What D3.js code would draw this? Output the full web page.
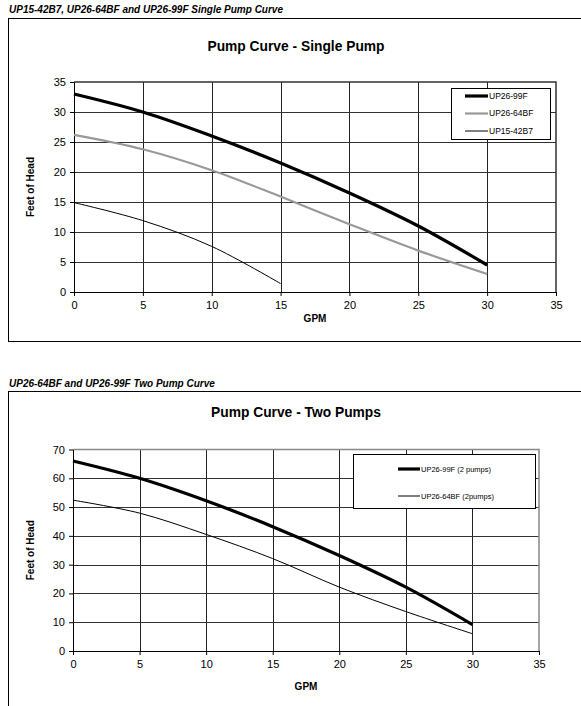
<!DOCTYPE html>
<html>
<head>
<meta charset="utf-8">
<script src="https://cdn.jsdelivr.net/npm/d3@7"></script>
<style>
  body { margin: 0; background: #fff; }
  svg text { font-family: "Liberation Sans", Arial, sans-serif; }
</style>
</head>
<body>
<div class="container"></div>
<script>
// data
var gpm = [0, 5, 10, 15, 20, 25, 30];
var gpmSmall = [0, 5, 10, 15];
var up2699 = [33, 30, 26, 21.5, 16.5, 11, 4.5];
var up2664 = [26.2, 23.8, 20.3, 15.9, 11.3, 6.9, 3];
var up1542 = [14.9, 11.9, 7.6, 1.4];
var up2699Two = [66, 60, 52.2, 43.2, 33.2, 22.2, 9.2];
var up2664Two = [52.4, 47.9, 40.5, 32.1, 22.2, 13.7, 6];
var xTicks = [0, 5, 10, 15, 20, 25, 30, 35];
var yTicksSingle = [0, 5, 10, 15, 20, 25, 30, 35];
var yTicksTwo = [0, 10, 20, 30, 40, 50, 60, 70];

var W = 581, H = 706;

var svg = d3.select('.container').append('svg')
	.attr('width', W)
	.attr('height', H);

var zip = function (xs, ys) {
	return xs.map(function (x, i) { return [x, ys[i]]; });
};

var drawChart = function (opt) {
	var g = svg.append('g');

	// section heading + frame
	g.append('text')
		.attr('x', 9).attr('y', opt.headY)
		.attr('font-size', 10).attr('font-weight', 'bold').attr('font-style', 'italic')
		.text(opt.heading);
	g.append('rect')
		.attr('x', 8.5).attr('y', opt.boxTop + 0.5)
		.attr('width', 600).attr('height', opt.boxH)
		.attr('fill', 'none').attr('stroke', '#000').attr('stroke-width', 1);

	var x = d3.scaleLinear().domain([0, 35]).range(opt.xr);
	var y = d3.scaleLinear().domain([0, opt.yMax]).range(opt.yr);

	g.append('text')
		.attr('x', 296).attr('y', opt.titleY)
		.attr('text-anchor', 'middle')
		.attr('font-size', 13.8).attr('font-weight', 'bold')
		.text(opt.title);

	// gridlines
	g.append('g').selectAll('line').data(xTicks.slice(1, -1)).enter().append('line')
		.attr('x1', function (d) { return Math.round(x(d)) + 0.5; })
		.attr('x2', function (d) { return Math.round(x(d)) + 0.5; })
		.attr('y1', opt.yr[1]).attr('y2', opt.yr[0])
		.attr('stroke', '#222').attr('stroke-width', 1);
	g.append('g').selectAll('line').data(opt.yTicks.slice(1, -1)).enter().append('line')
		.attr('y1', function (d) { return Math.round(y(d)) + 0.5; })
		.attr('y2', function (d) { return Math.round(y(d)) + 0.5; })
		.attr('x1', opt.xr[0]).attr('x2', opt.xr[1])
		.attr('stroke', '#333').attr('stroke-width', 1);

	// plot border (top/right)
	g.append('path')
		.attr('d', 'M' + opt.xr[0] + ',' + opt.yr[1] + 'H' + opt.xr[1] + 'V' + opt.yr[0])
		.attr('fill', 'none').attr('stroke', opt.borderColor).attr('stroke-width', 1.5);

	// axes
	var xAxis = g.append('g')
		.attr('transform', 'translate(0,' + opt.yr[0] + ')')
		.call(d3.axisBottom(x).tickValues(xTicks).tickSize(4).tickSizeOuter(0).tickPadding(5));
	var yAxis = g.append('g')
		.attr('transform', 'translate(' + opt.xr[0] + ',0)')
		.call(d3.axisLeft(y).tickValues(opt.yTicks).tickSize(4).tickSizeOuter(0).tickPadding(4));
	[xAxis, yAxis].forEach(function (a) {
		a.selectAll('text').attr('font-size', 11).attr('fill', '#000')
			.style('font-family', '"Liberation Sans", Arial, sans-serif');
		a.select('.domain').attr('stroke', '#000');
		a.selectAll('.tick line').attr('stroke', '#000');
	});

	g.append('text')
		.attr('x', (opt.xr[0] + opt.xr[1]) / 2).attr('y', opt.gpmY)
		.attr('text-anchor', 'middle')
		.attr('font-size', 10).attr('font-weight', 'bold')
		.text('GPM');
	g.append('text')
		.attr('transform', 'translate(34,' + (opt.yr[0] + opt.yr[1]) / 2 + ') rotate(-90)')
		.attr('text-anchor', 'middle')
		.attr('font-size', 10).attr('font-weight', 'bold')
		.text('Feet of Head');

	var line = d3.line()
		.x(function (d) { return x(d[0]); })
		.y(function (d) { return y(d[1]); })
		.curve(d3.curveCatmullRom.alpha(0.5));

	g.append('g').selectAll('path').data(opt.series).enter().append('path')
		.attr('d', function (s) { return line(s.pts); })
		.attr('fill', 'none')
		.attr('stroke', function (s) { return s.color; })
		.attr('stroke-width', function (s) { return s.width; });

	// legend
	var L = opt.legend;
	g.append('rect')
		.attr('x', L.x + 0.5).attr('y', L.y + 0.5)
		.attr('width', L.w).attr('height', L.h)
		.attr('fill', '#fff').attr('stroke', '#000').attr('stroke-width', 1);
	var items = g.append('g').selectAll('g').data(opt.series).enter().append('g')
		.attr('transform', function (s, i) { return 'translate(0,' + (L.firstY + i * L.step) + ')'; });
	items.append('line')
		.attr('x1', L.lineX1).attr('x2', L.lineX2)
		.attr('stroke', function (s) { return s.color; })
		.attr('stroke-width', function (s) { return s.width; });
	items.append('text')
		.attr('x', L.lineX2 + 1).attr('y', 0).attr('dy', '0.35em')
		.attr('font-size', L.fs)
		.text(function (s) { return s.name; });
};

drawChart({
	heading: 'UP15-42B7, UP26-64BF and UP26-99F Single Pump Curve',
	headY: 13, boxTop: 18, boxH: 323,
	title: 'Pump Curve - Single Pump', titleY: 51,
	xr: [74, 556], yr: [292, 82], yMax: 35, yTicks: yTicksSingle,
	gpmY: 322, borderColor: '#333',
	series: [
		{ name: 'UP26-99F', pts: zip(gpm, up2699), color: '#000', width: 3.2 },
		{ name: 'UP26-64BF', pts: zip(gpm, up2664), color: '#999', width: 2.2 },
		{ name: 'UP15-42B7', pts: zip(gpmSmall, up1542), color: '#000', width: 1 }
	],
	legend: { x: 451, y: 88, w: 99, h: 51, firstY: 96, step: 17.5, lineX1: 465, lineX2: 488, fs: 8.5 }
});

drawChart({
	heading: 'UP26-64BF and UP26-99F Two Pump Curve',
	headY: 387, boxTop: 391, boxH: 400,
	title: 'Pump Curve - Two Pumps', titleY: 417,
	xr: [73, 539], yr: [651, 449.5], yMax: 70, yTicks: yTicksTwo,
	gpmY: 690, borderColor: '#888',
	series: [
		{ name: 'UP26-99F (2 pumps)', pts: zip(gpm, up2699Two), color: '#000', width: 3.2 },
		{ name: 'UP26-64BF (2pumps)', pts: zip(gpm, up2664Two), color: '#000', width: 1 }
	],
	legend: { x: 353, y: 454, w: 182, h: 54, firstY: 469, step: 27, lineX1: 398, lineX2: 420, fs: 7.5 }
});
</script>
</body>
</html>
